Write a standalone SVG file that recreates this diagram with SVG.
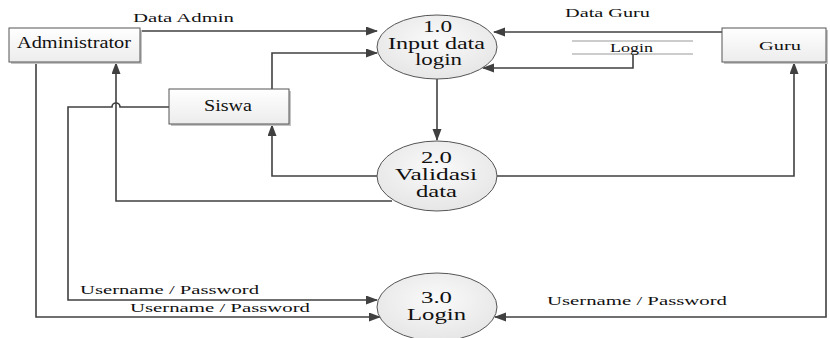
<svg xmlns="http://www.w3.org/2000/svg" width="830" height="338" viewBox="0 0 830 338">
<defs>
<linearGradient id="gb" x1="0" y1="0" x2="0" y2="1"><stop offset="0" stop-color="#ffffff"/><stop offset="1" stop-color="#ececec"/></linearGradient>
<radialGradient id="ge" cx="0.5" cy="0.4" r="0.6"><stop offset="0" stop-color="#fafafa"/><stop offset="1" stop-color="#e6e6e6"/></radialGradient>
<marker id="ah" markerUnits="userSpaceOnUse" markerWidth="12" markerHeight="10" refX="11" refY="4.5" orient="auto"><path d="M0,0 L12,4.5 L0,9 z" fill="#404040"/></marker>
</defs>
<style>
.box{fill:url(#gb);stroke:#555;stroke-width:1}
.sh{fill:#c4c4c4}
.ell{fill:url(#ge);stroke:#555;stroke-width:1}
.c{fill:none;stroke:#404040;stroke-width:1.6}
.ds{stroke:#999;stroke-width:1}
text{fill:#111}
.t16{font-size:16px}
.t13{font-size:13px}
.t12{font-size:12px}
</style>
<g id="connectors">
<path class="c" d="M140,31 H377" marker-end="url(#ah)"/>
<path class="c" d="M272,89 V53 H377" marker-end="url(#ah)"/>
<path class="c" d="M722,32 H494" marker-end="url(#ah)"/>
<path class="c" d="M633,54 V68 H483" marker-end="url(#ah)"/>
<path class="c" d="M437,79 V140" marker-end="url(#ah)"/>
<path class="c" d="M377,176 H272 V125" marker-end="url(#ah)"/>
<path class="c" d="M392,201 H116 V63" marker-end="url(#ah)"/>
<path class="c" d="M169,107 H120 A4,4 0 0 0 112,107 H68 V300 H377" marker-end="url(#ah)"/>
<path class="c" d="M36,62 V317 H380" marker-end="url(#ah)"/>
<path class="c" d="M496,176 H794 V63" marker-end="url(#ah)"/>
<path class="c" d="M826,62 V317 H495" marker-end="url(#ah)"/>
</g>
<g font-family="Liberation Serif, Times New Roman, serif">
<g id="administrator">
<rect class="sh" x="11" y="30" width="131" height="34"/>
<rect class="box" x="9" y="28" width="131" height="34"/>
<text class="t16" x="17" y="48" textLength="114" lengthAdjust="spacingAndGlyphs">Administrator</text>
</g>
<g id="siswa">
<rect class="sh" x="171" y="91" width="120" height="35"/>
<rect class="box" x="169" y="89" width="120" height="35"/>
<text class="t16" x="204" y="111" textLength="48" lengthAdjust="spacingAndGlyphs">Siswa</text>
</g>
<g id="guru">
<rect class="sh" x="724" y="30" width="104" height="34"/>
<rect class="box" x="722" y="28" width="104" height="34"/>
<text class="t13" x="759" y="50" textLength="42" lengthAdjust="spacingAndGlyphs">Guru</text>
</g>
<g id="p1">
<ellipse class="ell" cx="437" cy="47" rx="60" ry="32"/>
<text class="t16" x="423" y="32" textLength="29" lengthAdjust="spacingAndGlyphs">1.0</text>
<text class="t16" x="388" y="49" textLength="97" lengthAdjust="spacingAndGlyphs">Input data</text>
<text class="t16" x="415" y="65" textLength="47" lengthAdjust="spacingAndGlyphs">login</text>
</g>
<g id="p2">
<ellipse class="ell" cx="437" cy="176" rx="60" ry="35"/>
<text class="t16" x="421" y="163" textLength="31" lengthAdjust="spacingAndGlyphs">2.0</text>
<text class="t16" x="395" y="180" textLength="82" lengthAdjust="spacingAndGlyphs">Validasi</text>
<text class="t16" x="416" y="197" textLength="41" lengthAdjust="spacingAndGlyphs">data</text>
</g>
<g id="p3">
<ellipse class="ell" cx="437" cy="307" rx="60" ry="34"/>
<text class="t16" x="421" y="303" textLength="31" lengthAdjust="spacingAndGlyphs">3.0</text>
<text class="t16" x="407" y="320" textLength="59" lengthAdjust="spacingAndGlyphs">Login</text>
</g>
<g id="login-store">
<line class="ds" x1="572" y1="41" x2="693" y2="41"/>
<line class="ds" x1="572" y1="54" x2="693" y2="54"/>
<text class="t12" x="610" y="52" textLength="43" lengthAdjust="spacingAndGlyphs">Login</text>
</g>
<g id="labels">
<text class="t12" x="133" y="22" textLength="101" lengthAdjust="spacingAndGlyphs">Data Admin</text>
<text class="t12" x="565" y="17" textLength="85" lengthAdjust="spacingAndGlyphs">Data Guru</text>
<text class="t12" x="80" y="294" textLength="179" lengthAdjust="spacingAndGlyphs">Username / Password</text>
<text class="t12" x="130" y="312" textLength="180" lengthAdjust="spacingAndGlyphs">Username / Password</text>
<text class="t12" x="547" y="305" textLength="180" lengthAdjust="spacingAndGlyphs">Username / Password</text>
</g>
</g>
</svg>
